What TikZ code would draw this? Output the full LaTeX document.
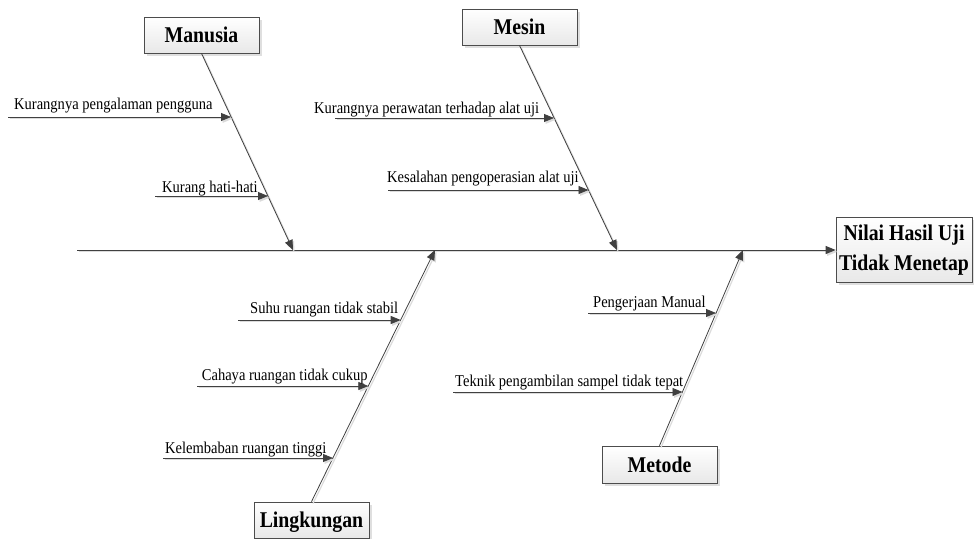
\documentclass[tikz,border=0pt]{standalone}
\usepackage{fontspec}
\setmainfont{Liberation Serif}
\usetikzlibrary{arrows.meta,shadows}
\newcommand\narrowtext[1]{\scalebox{0.88}[1]{#1}}

\begin{document}
\begin{tikzpicture}[x=1pt,y=-1pt,
    bone/.style={draw=black!75, line width=0.8pt, -{Triangle[length=10pt,width=8pt]},
        preaction={draw=black!14, line width=1.2pt, transform canvas={xshift=1.5pt,yshift=-1.8pt}}},
    cat/.style={draw=black!70, line width=0.7pt, top color=white, bottom color=black!9,
        drop shadow={shadow xshift=2.5pt,shadow yshift=-2.5pt,fill=black!25},
        minimum width=115pt, minimum height=36pt, inner sep=0pt,
        font=\fontsize{22.5}{27}\selectfont\bfseries, text height=15pt, text depth=0pt},
    cause/.style={anchor=base west, inner sep=0pt, font=\fontsize{16.5}{20}\selectfont}]
    \useasboundingbox (0,0) rectangle (974,538);

    % categories and effect
    \node[cat] (manusia) at (201.5,35) {\narrowtext{Manusia}};
    \node[cat] (mesin) at (519.5,27) {\narrowtext{Mesin}};
    \node[cat] (lingkungan) at (311.5,520) {\narrowtext{Lingkungan}};
    \node[cat, minimum height=37pt] (metode) at (659.5,464.5) {\narrowtext{Metode}};
    \node[cat, minimum width=136pt, minimum height=65pt, align=center,
        font=\fontsize{22.5}{30}\selectfont\bfseries, text height={}, text depth={}]
        (hasil) at (904,250) {\narrowtext{Nilai Hasil Uji}\\\narrowtext{Tidak Menetap}};

    % spine
    \coordinate (spine) at (77,250);
    \draw[bone] (spine) -- (hasil.west);

    % main bones
    \coordinate (m0) at (293,250);
    \coordinate (s0) at (617,250);
    \coordinate (l0) at (435,250);
    \coordinate (t0) at (743,250);
    \draw[bone] (manusia.south) -- (m0);
    \draw[bone] (mesin.south) -- (s0);
    \draw[bone] (lingkungan.north) -- (l0);
    \draw[bone] (metode.north) -- (t0);

    % Manusia
    \coordinate (k1a) at (8,117);  \coordinate (k1b) at (231,117);
    \draw[bone] (k1a) -- (k1b);
    \node[cause] (k1) at (14,109.5) {\narrowtext{Kurangnya pengalaman pengguna}};
    \coordinate (k2a) at (155,196); \coordinate (k2b) at (268,196);
    \draw[bone] (k2a) -- (k2b);
    \node[cause] (k2) at (162,192.5) {\narrowtext{Kurang hati-hati}};

    % Mesin
    \coordinate (k3a) at (335,118); \coordinate (k3b) at (554,118);
    \draw[bone] (k3a) -- (k3b);
    \node[cause] (k3) at (314,113.3) {\narrowtext{Kurangnya perawatan terhadap alat uji}};
    \coordinate (k4a) at (388,190); \coordinate (k4b) at (588.5,190);
    \draw[bone] (k4a) -- (k4b);
    \node[cause] (k4) at (387,182.7) {\narrowtext{Kesalahan pengoperasian alat uji}};

    % Lingkungan
    \coordinate (k5a) at (238,320); \coordinate (k5b) at (400.7,320);
    \draw[bone] (k5a) -- (k5b);
    \node[cause] (k5) at (250,313.3) {\narrowtext{Suhu ruangan tidak stabil}};
    \coordinate (k6a) at (197,386); \coordinate (k6b) at (368.3,386);
    \draw[bone] (k6a) -- (k6b);
    \node[cause] (k6) at (201.7,380.7) {\narrowtext{Cahaya ruangan tidak cukup}};
    \coordinate (k7a) at (163,458); \coordinate (k7b) at (333,458);
    \draw[bone] (k7a) -- (k7b);
    \node[cause] (k7) at (165,453.3) {\narrowtext{Kelembaban ruangan tinggi}};

    % Metode
    \coordinate (k8a) at (588,313); \coordinate (k8b) at (716,313);
    \draw[bone] (k8a) -- (k8b);
    \node[cause] (k8) at (593,307.3) {\narrowtext{Pengerjaan Manual}};
    \coordinate (k9a) at (453,392); \coordinate (k9b) at (682.5,392);
    \draw[bone] (k9a) -- (k9b);
    \node[cause] (k9) at (455,386) {\narrowtext{Teknik pengambilan sampel tidak tepat}};
\end{tikzpicture}
\end{document}
